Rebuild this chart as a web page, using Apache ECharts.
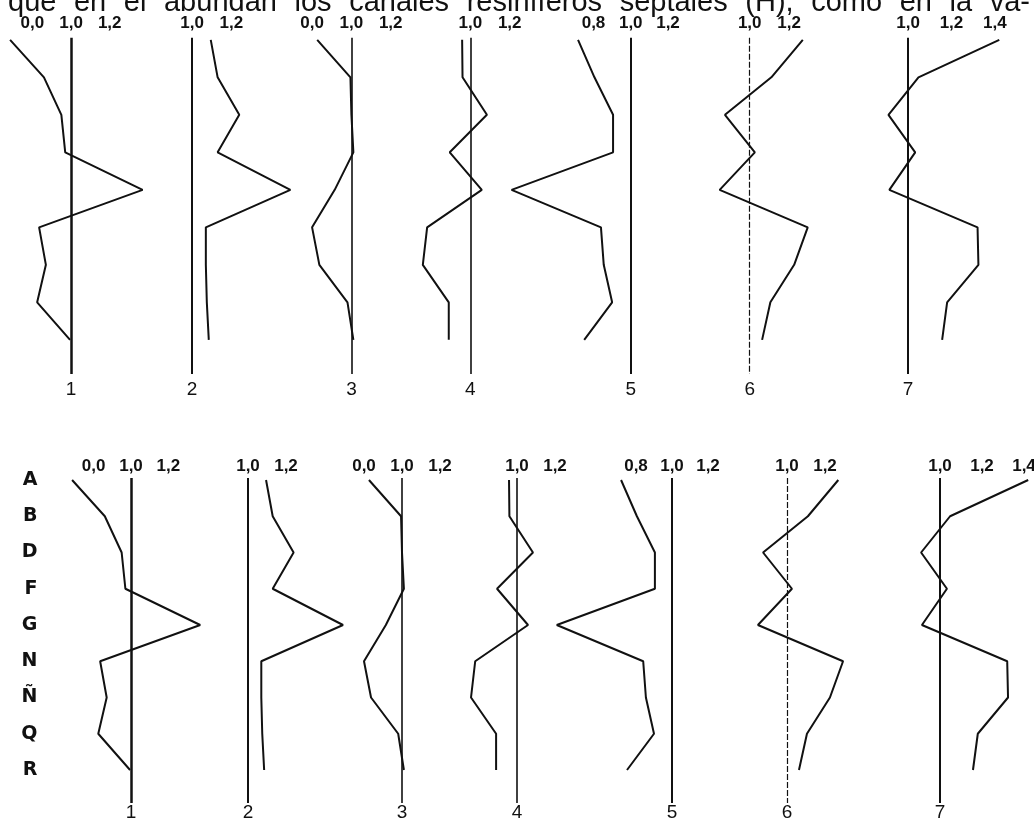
<!DOCTYPE html>
<html><head><meta charset="utf-8">
<script src="https://cdn.jsdelivr.net/npm/echarts@6/dist/echarts.min.js"></script>
<style>html,body{margin:0;padding:0;background:#fff}#c{width:1034px;height:824px}</style>
</head><body><div id="c"></div>
<script>
// ---------- data ----------
const headerText = 'que en él abundan los canales resiníferos septales (H), como en la va-';
const rows = ['A', 'B', 'D', 'F', 'G', 'N', 'Ñ', 'Q', 'R'];
const panelNames = ['1', '2', '3', '4', '5', '6', '7'];
const refValue = 1.0;
const panel1 = [0.685, 0.86, 0.95, 0.97, 1.37, 0.835, 0.87, 0.825, 0.995];
const panel2 = [1.095, 1.13, 1.24, 1.13, 1.50, 1.07, 1.07, 1.075, 1.085];
const panel3 = [0.826, 0.995, 1.0, 1.01, 0.915, 0.80, 0.837, 0.98, 1.01];
const panel4 = [0.958, 0.96, 1.084, 0.895, 1.058, 0.78, 0.758, 0.89, 0.89];
const panel5 = [0.717, 0.805, 0.905, 0.905, 0.36, 0.84, 0.855, 0.90, 0.75];
const panel6 = [1.27, 1.11, 0.874, 1.026, 0.847, 1.295, 1.226, 1.105, 1.063];
const panel7 = [1.42, 1.048, 0.91, 1.033, 0.914, 1.32, 1.324, 1.18, 1.157];
const tickValues1 = [0.8, 1.0, 1.2];
const tickValues2 = [1.0, 1.2];
const tickValues7 = [1.0, 1.2, 1.4];
const tickTexts1 = ['0,0', '1,0', '1,2'];
const tickTexts2 = ['1,0', '1,2'];
const tickTexts3 = ['0,0', '1,0', '1,2'];
const tickTexts4 = ['1,0', '1,2'];
const tickTexts5 = ['0,8', '1,0', '1,2'];
const tickTexts6 = ['1,0', '1,2'];
const tickTexts7 = ['1,0', '1,2', '1,4'];

const panels = [panel1, panel2, panel3, panel4, panel5, panel6, panel7];
const tickValues = [tickValues1, tickValues2, tickValues1, tickValues2, tickValues1, tickValues2, tickValues7];
const tickTexts = [tickTexts1, tickTexts2, tickTexts3, tickTexts4, tickTexts5, tickTexts6, tickTexts7];

// ---------- layout ----------
const lineX = [131, 248, 402, 517, 672, 787, 940];
const ppu = [187, 190, 190, 190, 180, 190, 210];
const xRange = [[0.66, 1.45], [0.9, 1.6], [0.7, 1.3], [0.7, 1.3], [0.3, 1.3], [0.8, 1.4], [0.8, 1.5]];
const refWidth = [2.5, 2, 1.6, 1.6, 2, 1.2, 2];
const refType = ['solid', 'solid', 'solid', 'solid', 'solid', [6, 2], 'solid'];
const GRID_TOP = 478, GRID_H = 325, ROW0 = 480, ROW_STEP = 36.25;
const Y_MIN = (GRID_TOP - ROW0) / ROW_STEP;
const Y_MAX = (GRID_TOP + GRID_H - ROW0) / ROW_STEP;
const figures = [
  {s: 1.0346, ox: -64.5, oy: -456.8, rowLabels: false, labelMargin: 6, numberY: 390},
  {s: 1, ox: 0, oy: 0, rowLabels: true, labelMargin: 3, numberY: 813}
];
const INK = '#111';

const grids = [], xAxes = [], yAxes = [], series = [], graphics = [];
figures.forEach(f => {
  panels.forEach((vals, pi) => {
    const [xmin, xmax] = xRange[pi];
    const left = f.ox + f.s * (lineX[pi] + (xmin - refValue) * ppu[pi]);
    const width = f.s * (xmax - xmin) * ppu[pi];
    const top = f.oy + f.s * GRID_TOP;
    const height = f.s * GRID_H;
    const gi = grids.length;
    grids.push({left, top, width, height, containLabel: false, outerBoundsMode: 'none'});
    const tv = tickValues[pi], tt = tickTexts[pi];
    xAxes.push({
      type: 'value', gridIndex: gi, position: 'top', min: xmin, max: xmax,
      axisLine: {show: false}, axisTick: {show: false}, splitLine: {show: false},
      axisLabel: {
        customValues: tv,
        formatter: v => { const k = tv.findIndex(t => Math.abs(t - v) < 1e-6); return k >= 0 ? tt[k] : ''; },
        margin: f.labelMargin, color: INK, fontSize: 17, fontWeight: 'bold',
        fontFamily: 'Liberation Sans'
      }
    });
    const showRows = f.rowLabels && pi === 0;
    yAxes.push({
      type: 'value', gridIndex: gi, inverse: true, min: Y_MIN, max: Y_MAX,
      axisLine: {show: false}, axisTick: {show: false}, splitLine: {show: false},
      axisLabel: showRows ? {
        customValues: rows.map((r, k) => k),
        formatter: v => rows[Math.round(v)],
        margin: 30, color: INK, fontSize: 19, fontWeight: 'bold', fontFamily: 'DejaVu Sans'
      } : {show: false}
    });
    series.push({
      type: 'line', xAxisIndex: gi, yAxisIndex: gi,
      data: vals.map((v, k) => [v, k]),
      symbol: 'none', clip: false, silent: true,
      lineStyle: {color: INK, width: 2},
      markLine: {
        silent: true, symbol: 'none', label: {show: false},
        lineStyle: {color: INK, width: refWidth[pi], type: refType[pi]},
        data: [{xAxis: refValue}]
      }
    });
    graphics.push({
      type: 'text', x: f.ox + f.s * lineX[pi], y: f.numberY,
      style: {text: panelNames[pi], fill: INK, font: '19px "Liberation Sans"',
        textAlign: 'center', textVerticalAlign: 'middle', align: 'center', verticalAlign: 'middle'}
    });
  });
});

// header line, justified across the page width
(function () {
  const font = '29px "Liberation Sans"';
  const ctx = document.createElement('canvas').getContext('2d');
  ctx.font = font;
  const words = headerText.split(' ');
  const widths = words.map(w => ctx.measureText(w).width);
  const x0 = 8, x1 = 1030;
  const gap = (x1 - x0 - widths.reduce((a, b) => a + b, 0)) / (words.length - 1);
  let x = x0;
  words.forEach((w, k) => {
    graphics.push({type: 'text', x, y: 3,
      style: {text: w, fill: INK, font, textAlign: 'left', textVerticalAlign: 'middle', align: 'left', verticalAlign: 'middle'}});
    x += widths[k] + gap;
  });
})();

const chart = echarts.init(document.getElementById('c'), null, {renderer: 'canvas', width: 1034, height: 824});
chart.setOption({
  animation: false,
  backgroundColor: '#fff',
  grid: grids, xAxis: xAxes, yAxis: yAxes, series,
  graphic: {elements: graphics}
});
</script>
</body></html>
